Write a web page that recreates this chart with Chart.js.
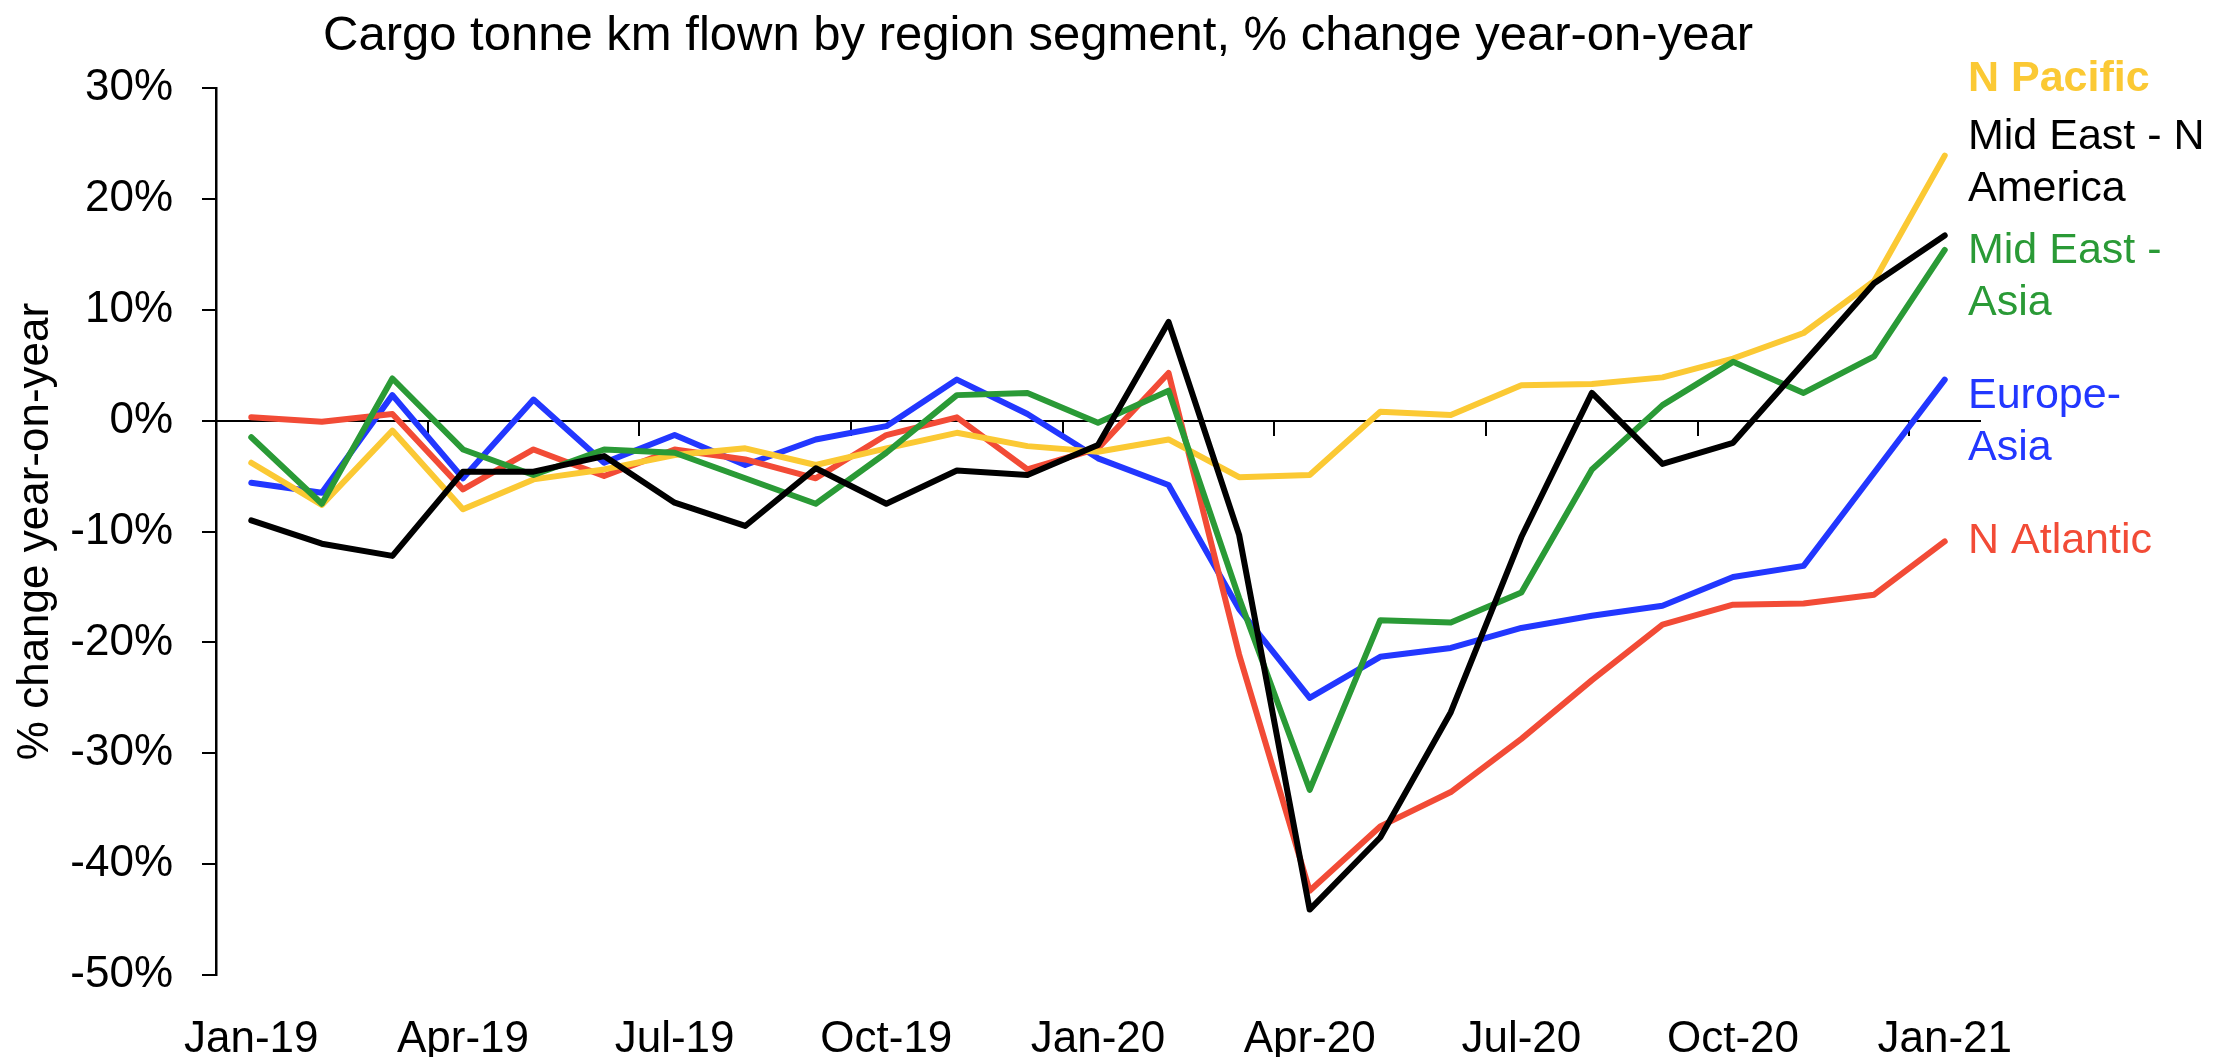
<!DOCTYPE html>
<html>
<head>
<meta charset="utf-8">
<title>Cargo tonne km flown by region segment</title>
<script src="https://cdn.jsdelivr.net/npm/chart.js@4.4.1/dist/chart.umd.min.js"></script>
<style>
  html, body { margin: 0; padding: 0; background: #fff; }
  #wrap { position: relative; width: 2221px; height: 1057px; }
  #title {
    position: absolute; left: 0; top: 9px; width: 2076px;
    text-align: center; color: #000;
    font: 49px 'Liberation Sans', Arial, sans-serif; line-height: 48px;
  }
</style>
</head>
<body>
<div id="wrap">
  <div id="title">Cargo tonne km flown by region segment, % change year-on-year</div>
  <canvas id="cargoChart" width="2221" height="1057"></canvas>
</div>
<script>
// months, Jan-19 .. Jan-21
const months = [
  'Jan-19', 'Feb-19', 'Mar-19', 'Apr-19', 'May-19', 'Jun-19', 'Jul-19', 'Aug-19', 'Sep-19', 'Oct-19', 'Nov-19', 'Dec-19',
  'Jan-20', 'Feb-20', 'Mar-20', 'Apr-20', 'May-20', 'Jun-20', 'Jul-20', 'Aug-20', 'Sep-20', 'Oct-20', 'Nov-20', 'Dec-20',
  'Jan-21'
];

// % change year-on-year
const nPacific = [-3.8, -7.6, -0.9, -8.0, -5.3, -4.4, -3.1, -2.5, -4.0, -2.5, -1.1, -2.3,
  -2.8, -1.7, -5.1, -4.9, 0.8, 0.5, 3.2, 3.3, 3.9, 5.6, 7.9, 12.6, 23.9];
const midEastNAmerica = [-9.0, -11.1, -12.2, -4.6, -4.6, -3.2, -7.4, -9.5, -4.3, -7.5, -4.5, -4.9,
  -2.2, 8.9, -10.3, -44.1, -37.6, -26.3, -10.5, 2.5, -3.9, -2.0, 5.2, 12.4, 16.7];
const midEastAsia = [-1.5, -7.5, 3.8, -2.6, -4.9, -2.6, -2.9, -5.2, -7.5, -2.9, 2.3, 2.5,
  -0.2, 2.7, -16.0, -33.3, -18.0, -18.2, -15.5, -4.4, 1.4, 5.3, 2.5, 5.8, 15.4];
const europeAsia = [-5.6, -6.5, 2.3, -5.2, 1.9, -3.8, -1.3, -4.0, -1.7, -0.5, 3.7, 0.6,
  -3.4, -5.8, -17.0, -25.0, -21.3, -20.5, -18.7, -17.6, -16.7, -14.1, -13.1, -4.7, 3.7];
const nAtlantic = [0.3, -0.1, 0.6, -6.2, -2.6, -5.0, -2.6, -3.5, -5.2, -1.3, 0.3, -4.4,
  -2.5, 4.3, -21.1, -42.4, -36.6, -33.5, -28.7, -23.4, -18.4, -16.6, -16.5, -15.7, -10.9];

const seriesNames = ['N Pacific', 'Mid East - N America', 'Mid East - Asia', 'Europe-Asia', 'N Atlantic'];
const seriesData = [nPacific, midEastNAmerica, midEastAsia, europeAsia, nAtlantic];

// label text as it is wrapped on the right, and the value its block is centred on
const labelLines = [['N Pacific'], ['Mid East - N', 'America'], ['Mid East -', 'Asia'], ['Europe-', 'Asia'], ['N Atlantic']];
const labelAt = [30.8, 23.2, 12.9, -0.1, -10.9];

const colors = ['#FBC934', '#000000', '#2A9A36', '#2237FF', '#F24B36'];
const drawOrder = [3, 1, 2, 5, 4]; // lower = on top

const FONT = "'Liberation Sans', Arial, sans-serif";
Chart.defaults.font.family = FONT;
Chart.defaults.color = '#000';

// names drawn at the right end of the lines
const endLabels = {
  id: 'endLabels',
  afterDatasetsDraw(chart) {
    const { ctx, chartArea, scales } = chart;
    ctx.save();
    ctx.textAlign = 'left';
    ctx.textBaseline = 'middle';
    labelLines.forEach((lines, i) => {
      ctx.fillStyle = colors[i];
      ctx.font = (i === 0 ? 'bold ' : '') + '43px ' + FONT;
      const mid = scales.y.getPixelForValue(labelAt[i]);
      lines.forEach((txt, k) => {
        ctx.fillText(txt, chartArea.right - 12, mid + (k - (lines.length - 1) / 2) * 52);
      });
    });
    ctx.restore();
  }
};

const everyThird = ctx => (ctx.index % 3 === 0 ? '#000' : 'rgba(0,0,0,0)');

new Chart(document.getElementById('cargoChart'), {
  type: 'line',
  data: {
    labels: months,
    datasets: seriesData.map((vals, i) => ({
      label: seriesNames[i],
      data: vals,
      borderColor: colors[i],
      backgroundColor: colors[i],
      borderWidth: 6,
      pointRadius: 0,
      tension: 0,
      borderCapStyle: 'round',
      borderJoinStyle: 'round',
      order: drawOrder[i]
    }))
  },
  options: {
    responsive: false,
    animation: false,
    layout: { padding: { top: 88, right: 241, left: 0, bottom: 0 } },
    plugins: {
      legend: { display: false },
      tooltip: { enabled: false }
    },
    scales: {
      x: {
        offset: true,
        grid: { display: false },
        border: { display: false },
        ticks: {
          autoSkip: false,
          maxRotation: 0,
          padding: 30,
          font: { size: 44 },
          callback: function (val, idx) { return idx % 3 === 0 ? this.getLabelForValue(val) : ''; }
        },
        afterFit: scale => { scale.height = 82; }
      },
      // the category ticks hang off the 0% line
      x2: {
        type: 'category',
        position: { y: 0 },
        offset: true,
        grid: {
          offset: true,
          drawOnChartArea: false,
          drawTicks: true,
          tickLength: 14,
          lineWidth: 2,
          color: everyThird,
          tickColor: everyThird
        },
        border: { display: true, color: '#000', width: 2 },
        ticks: { display: false }
      },
      y: {
        min: -50,
        max: 30,
        ticks: {
          stepSize: 10,
          padding: 29,
          font: { size: 44 },
          callback: v => v + '%'
        },
        grid: { drawOnChartArea: false, tickLength: 14, lineWidth: 2, color: '#000', tickColor: '#000' },
        border: { display: true, color: '#000', width: 2.5 },
        title: {
          display: true,
          text: '% change year-on-year',
          font: { size: 44 },
          padding: { top: 9, bottom: 0 }
        },
        afterFit: scale => { scale.width = 216; }
      }
    }
  },
  plugins: [endLabels]
});
</script>
</body>
</html>
